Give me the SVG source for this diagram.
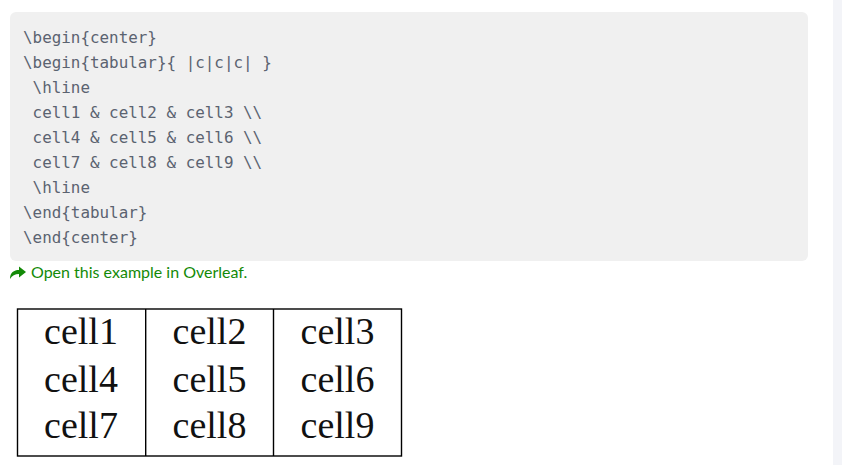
<svg xmlns="http://www.w3.org/2000/svg" width="842" height="466" viewBox="0 0 842 466">
<style>
.code{font-family:"DejaVu Sans Mono",monospace;font-size:15.9px;fill:#5b6370;white-space:pre}
.cell{font-family:"Liberation Serif","Times New Roman",serif;font-size:38px;fill:#111;text-anchor:middle}
.grid{stroke:#000;stroke-width:1.4;fill:none}
.link{font-family:Lato,"Open Sans",sans-serif;font-size:16px;fill:#138a07}
</style>
<rect width="842" height="466" fill="#ffffff"/>
<rect x="833" y="0" width="9" height="465" fill="#f3f4f8"/>
<g id="code-block">
<rect x="10" y="12" width="798" height="249" rx="6" fill="#f0f0f0"/>
<text class="code" x="23" y="43" xml:space="preserve">\begin{center}</text>
<text class="code" x="23" y="68" xml:space="preserve">\begin{tabular}{ |c|c|c| }</text>
<text class="code" x="23" y="93" xml:space="preserve"> \hline</text>
<text class="code" x="23" y="118" xml:space="preserve"> cell1 &amp; cell2 &amp; cell3 \\</text>
<text class="code" x="23" y="143" xml:space="preserve"> cell4 &amp; cell5 &amp; cell6 \\</text>
<text class="code" x="23" y="168" xml:space="preserve"> cell7 &amp; cell8 &amp; cell9 \\</text>
<text class="code" x="23" y="193" xml:space="preserve"> \hline</text>
<text class="code" x="23" y="218" xml:space="preserve">\end{tabular}</text>
<text class="code" x="23" y="243" xml:space="preserve">\end{center}</text>
</g>
<g id="overleaf-link">
<path d="M10,279 C10,272.5 14,270 19,270 L19,266.5 L26,272 L19,277.5 L19,274 C15,274 12,275.5 10,279 Z" fill="#138a07"/>
<text class="link" x="31" y="277.5">Open this example in Overleaf.</text>
</g>
<g id="table">
<rect class="grid" x="17.5" y="309" width="384" height="147"/>
<line class="grid" x1="145.7" y1="309" x2="145.7" y2="456"/>
<line class="grid" x1="273.5" y1="309" x2="273.5" y2="456"/>
<text class="cell" x="81" y="344">cell1</text>
<text class="cell" x="209.5" y="344">cell2</text>
<text class="cell" x="337.5" y="344">cell3</text>
<text class="cell" x="81" y="391.5">cell4</text>
<text class="cell" x="209.5" y="391.5">cell5</text>
<text class="cell" x="337.5" y="391.5">cell6</text>
<text class="cell" x="81" y="438">cell7</text>
<text class="cell" x="209.5" y="438">cell8</text>
<text class="cell" x="337.5" y="438">cell9</text>
</g>
</svg>
